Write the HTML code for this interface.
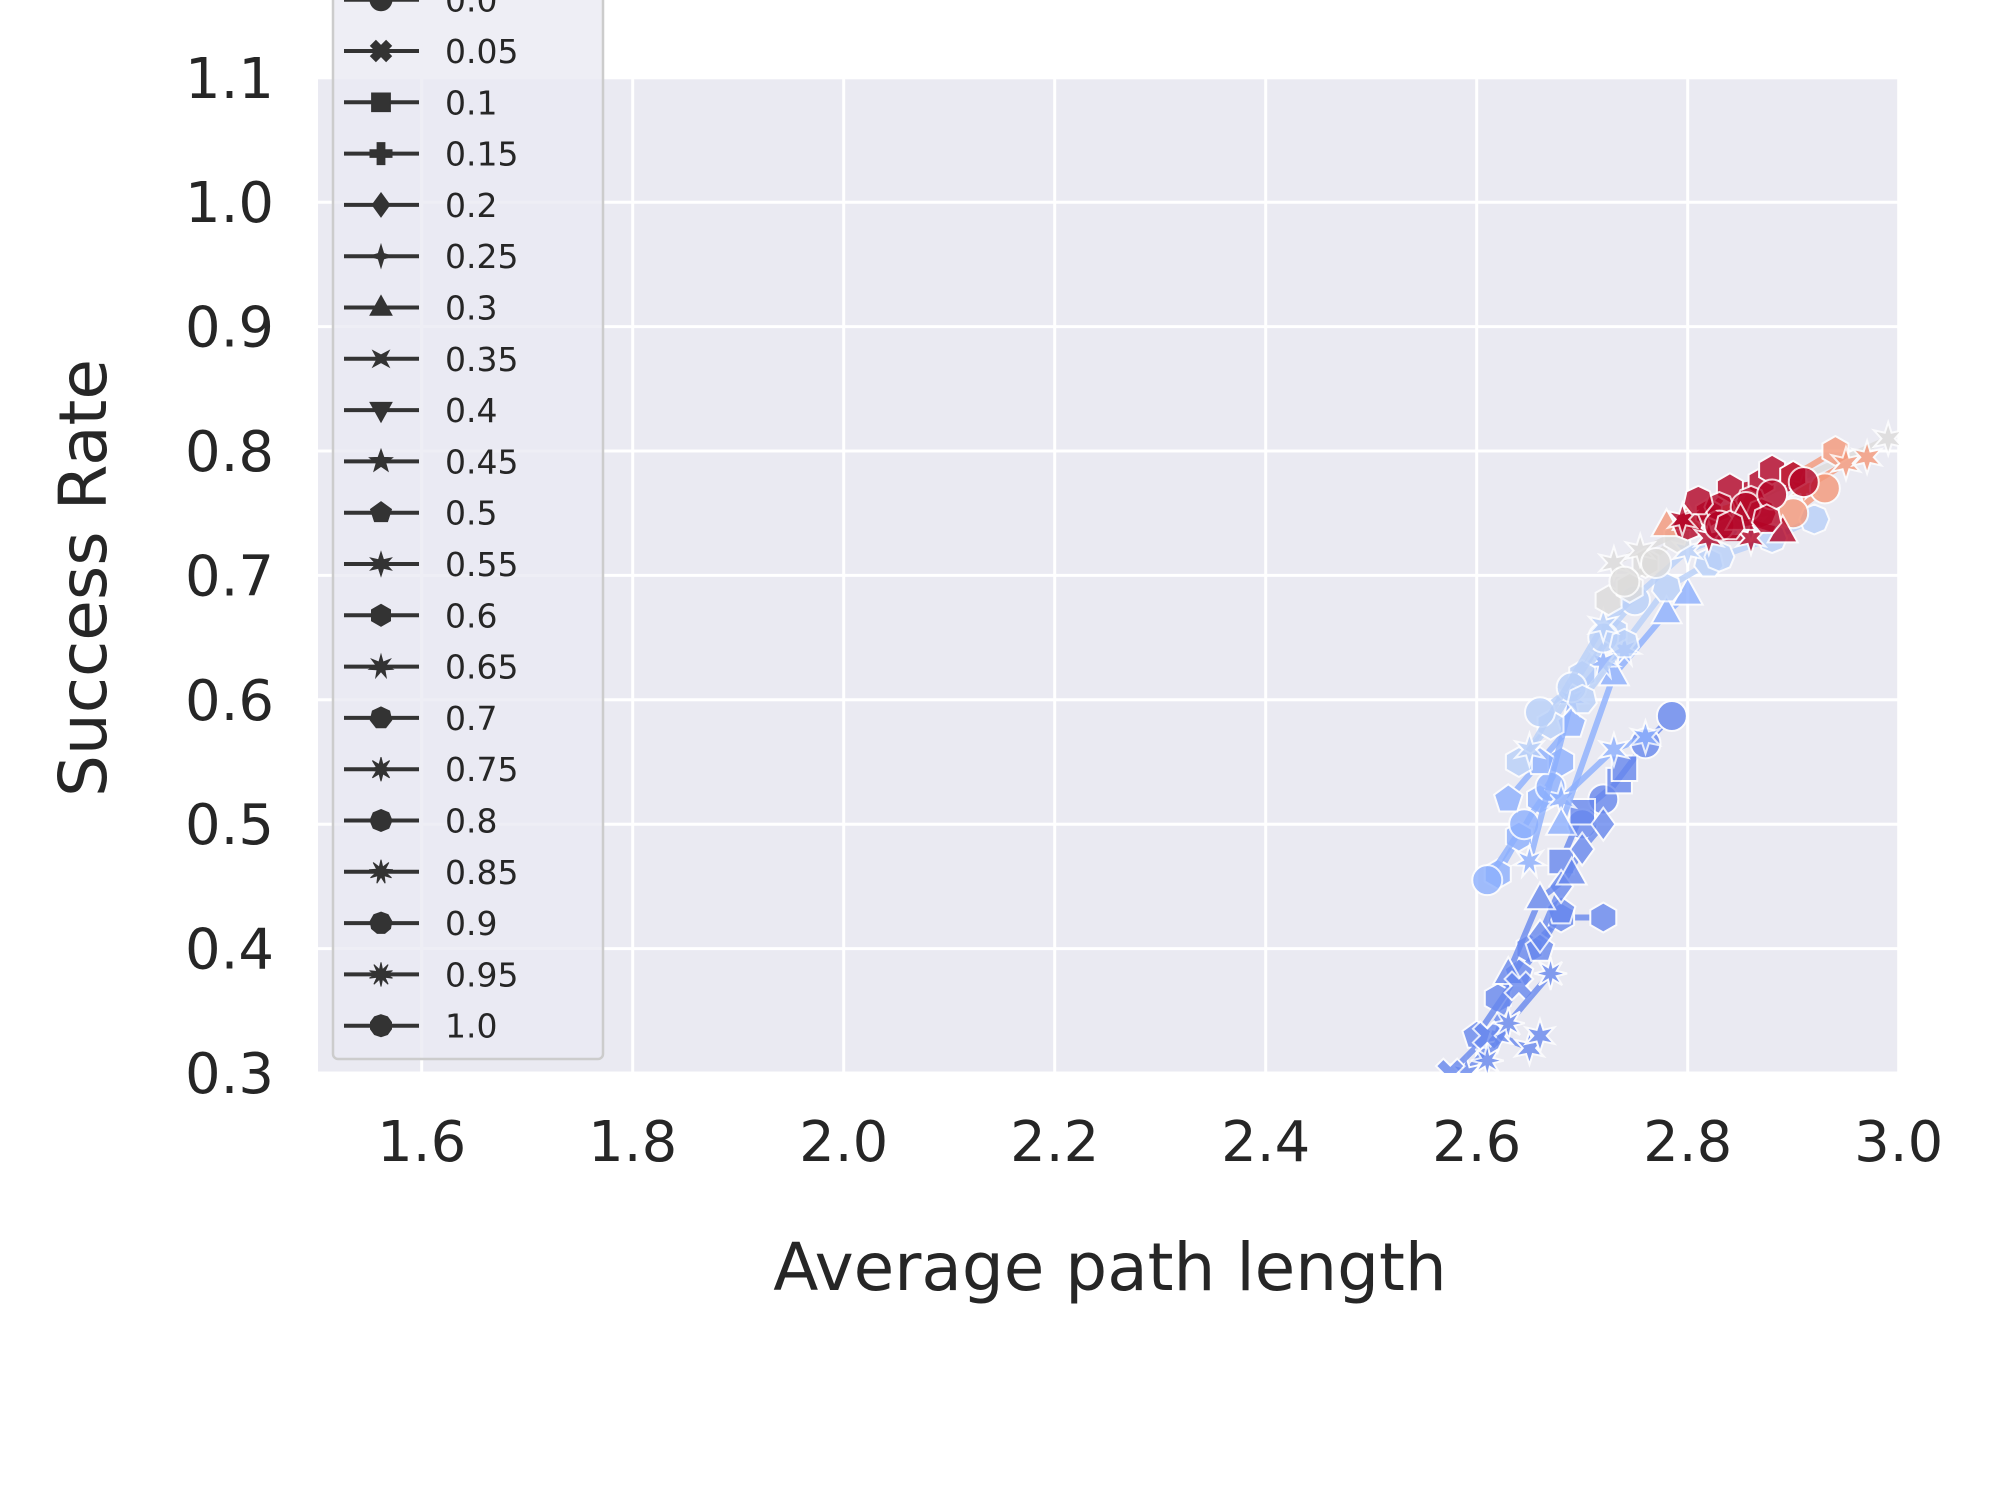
<!DOCTYPE html>
<html><head><meta charset="utf-8"><style>
body{margin:0;background:#fff;}
svg{display:block;font-family:"DejaVu Sans","Liberation Sans",sans-serif;}
</style></head><body>
<svg id="chart" width="2000" height="1500" viewBox="0 0 2000 1500" xmlns="http://www.w3.org/2000/svg">
<rect x="0" y="0" width="2000" height="1500" fill="#fff"/>
<rect x="318" y="78" width="1581" height="995" fill="#eaeaf2"/>
<g id="grid"></g><g id="marks"></g><g id="ticks"></g><g id="legend"></g>
<text x="1110" y="1290" font-size="66" fill="#262626" text-anchor="middle">Average path length</text>
<text transform="translate(106,578) rotate(-90)" font-size="66" fill="#262626" text-anchor="middle">Success Rate</text>
</svg>
<script>
const xTicks=[1.6,1.8,2.0,2.2,2.4,2.6,2.8,3.0];
const yTicks=[0.3,0.4,0.5,0.6,0.7,0.8,0.9,1.0,1.1];
const legendLabels=["0.0","0.05","0.1","0.15","0.2","0.25","0.3","0.35","0.4","0.45","0.5","0.55","0.6","0.65","0.7","0.75","0.8","0.85","0.9","0.95","1.0"];
const seriesColors=["#6788ee","#6788ee","#6788ee","#6788ee","#6788ee","#6788ee","#6788ee","#6788ee","#6788ee",
"#8db0fe","#8db0fe","#8db0fe","#8db0fe","#8db0fe","#8db0fe",
"#b9d0f9","#b9d0f9","#b9d0f9","#b9d0f9","#b9d0f9",
"#dddcdb","#dddcdb","#dddcdb",
"#f4987a","#f4987a","#f4987a","#f4987a",
"#b40426","#b40426","#b40426","#b40426","#b40426","#b40426"];
const seriesMarkers=[0,2,12,11,10,4,6,1,15, 12,0,11,6,10,13, 12,0,14,11,16, 12,11,0, 12,11,6,0, 12,16,11,0,6,14];
const seriesX=[
[2.70,2.72,2.76,2.785],[2.68,2.70,2.735,2.74],[2.62,2.65,2.68,2.72],[2.59,2.62,2.65,2.66],[2.60,2.64,2.66,2.68],[2.66,2.68,2.70,2.72],[2.63,2.66,2.69],[2.575,2.61,2.64],[2.61,2.63,2.67],
[2.62,2.64,2.66,2.68],[2.61,2.645,2.67],[2.68,2.73,2.76],[2.68,2.73,2.78,2.80],[2.63,2.66,2.69],[2.65,2.69,2.72,2.74],
[2.64,2.67,2.70,2.73],[2.66,2.69,2.72,2.75],[2.70,2.74,2.78,2.82],[2.65,2.72,2.80,2.86],[2.83,2.88,2.92],
[2.725,2.745,2.76,2.79],[2.73,2.755,2.99],[2.74,2.77],
[2.90,2.94],[2.91,2.95,2.97],[2.78,2.80,2.86],[2.90,2.93],
[2.82,2.84,2.87,2.88,2.90],[2.80,2.83,2.86,2.87],[2.795,2.82,2.86],[2.83,2.855,2.88,2.91],[2.85,2.89],[2.81,2.84,2.875]];
const seriesY=[
[0.50,0.52,0.565,0.587],[0.47,0.51,0.535,0.545],[0.36,0.40,0.425,0.425],[0.30,0.33,0.32,0.33],[0.33,0.38,0.40,0.43],[0.41,0.45,0.48,0.50],[0.38,0.44,0.46],[0.30,0.33,0.37],[0.31,0.34,0.38],
[0.46,0.49,0.52,0.55],[0.455,0.50,0.53],[0.52,0.56,0.57],[0.50,0.62,0.67,0.685],[0.52,0.55,0.58],[0.47,0.60,0.63,0.64],
[0.55,0.58,0.62,0.655],[0.59,0.61,0.65,0.68],[0.60,0.645,0.69,0.71],[0.56,0.66,0.72,0.74],[0.715,0.73,0.745],
[0.68,0.69,0.71,0.73],[0.71,0.72,0.81],[0.695,0.71],
[0.78,0.80],[0.77,0.79,0.795],[0.74,0.745,0.76],[0.75,0.77],
[0.75,0.77,0.775,0.785,0.78],[0.74,0.755,0.76,0.75],[0.745,0.73,0.73],[0.74,0.755,0.765,0.775],[0.745,0.735],[0.76,0.74,0.745]];

const NS="http://www.w3.org/2000/svg";
const X0=318,X1=1899,Y0=78,Y1=1073;
function xs(v){return 1265.7+(v-2.4)*1055;}
function ys(v){return 1073-(v-0.3)*1244;}
function mk(tag,attrs,parent){const e=document.createElementNS(NS,tag);for(const k in attrs)e.setAttribute(k,attrs[k]);parent.appendChild(e);return e;}
function poly(cx,cy,pts){return "M"+pts.map(p=>(cx+p[0]).toFixed(1)+","+(cy+p[1]).toFixed(1)).join("L")+"Z";}
function markerPath(t,cx,cy,r){
  const P=[];
  if(t===0){return `M${cx-r},${cy}a${r},${r} 0 1,0 ${2*r},0a${r},${r} 0 1,0 ${-2*r},0Z`;}
  if(t===1||t===3){const a=r*0.35,b=r;let base=[[-a,-b],[a,-b],[a,-a],[b,-a],[b,a],[a,a],[a,b],[-a,b],[-a,a],[-b,a],[-b,-a],[-a,-a]];
    if(t===1){const c=Math.SQRT1_2;base=base.map(p=>[(p[0]-p[1])*c,(p[0]+p[1])*c]);}return poly(cx,cy,base);}
  if(t===2){const s=r*0.85;return poly(cx,cy,[[-s,-s],[s,-s],[s,s],[-s,s]]);}
  if(t===4){return poly(cx,cy,[[0,-r*1.1],[r*0.8,0],[0,r*1.1],[-r*0.8,0]]);}
  if(t===5||t===7){const rot=t===7?Math.PI/4:0;for(let i=0;i<8;i++){const rr=i%2?r*0.35:r*1.05;const a=rot+i*Math.PI/4-Math.PI/2;P.push([rr*Math.cos(a),rr*Math.sin(a)]);}return poly(cx,cy,P);}
  if(t===6){return poly(cx,cy,[[0,-r*1.1],[r,r*0.7],[-r,r*0.7]]);}
  if(t===8){return poly(cx,cy,[[0,r*1.1],[r,-r*0.7],[-r,-r*0.7]]);}
  const j=t-9,n=5+Math.floor(j/2),star=(j%2===0);
  if(star){for(let i=0;i<2*n;i++){const rr=i%2?r*0.45:r*1.1;const a=i*Math.PI/n-Math.PI/2;P.push([rr*Math.cos(a),rr*Math.sin(a)]);}}
  else{for(let i=0;i<n;i++){const a=i*2*Math.PI/n-Math.PI/2;P.push([r*Math.cos(a),r*Math.sin(a)]);}}
  return poly(cx,cy,P);
}
const grid=document.getElementById('grid'),ticks=document.getElementById('ticks'),marks=document.getElementById('marks'),legend=document.getElementById('legend');
xTicks.forEach(v=>{
  const l=mk('line',{x1:xs(v),x2:xs(v),y1:Y0,y2:Y1,stroke:'#fff','stroke-width':3},grid);
  
  
  const t=mk('text',{x:xs(v),y:1161,'font-size':56,fill:'#262626','text-anchor':'middle'},ticks);t.textContent=v.toFixed(1);
  
  
});
yTicks.forEach(v=>{
  const l=mk('line',{x1:X0,x2:X1,y1:ys(v),y2:ys(v),stroke:'#fff','stroke-width':3},grid);
  
  
  const t=mk('text',{x:274,y:ys(v)+20,'font-size':56,fill:'#262626','text-anchor':'end'},ticks);t.textContent=v.toFixed(1);
  
  
});
const clip=mk('clipPath',{id:'pc'},document.getElementById('chart'));mk('rect',{x:X0,y:Y0,width:X1-X0,height:Y1-Y0},clip);
marks.setAttribute('clip-path','url(#pc)');
seriesX.forEach((xsArr,i)=>{
  const g=mk('g',{opacity:0.8},marks);
  
  
  const d=xsArr.map((v,k)=>(k?'L':'M')+xs(v).toFixed(1)+','+ys(seriesY[i][k]).toFixed(1)).join('');
  const ln=mk('path',{d:d,fill:'none',stroke:seriesColors[i],'stroke-width':6},g);
  
  
  xsArr.forEach((v,k)=>{
    const p=mk('path',{d:markerPath(seriesMarkers[i],xs(v),ys(seriesY[i][k]),15),fill:seriesColors[i],stroke:'#fff','stroke-width':2},g);
    
    
  });
});
const lb=mk('rect',{x:333,y:-20,width:270,height:1079,rx:5,fill:'#eaeaf2','fill-opacity':0.8,stroke:'#cccccc','stroke-width':2.5},legend);


legendLabels.forEach((s,i)=>{
  const y=-0.3+i*51.3;
  const g=mk('g',{},legend);
  
  
  mk('line',{x1:344,x2:419,y1:y,y2:y,stroke:'#333','stroke-width':4},g);
  mk('path',{d:markerPath(i,381,y,11),fill:'#333',stroke:'#333','stroke-width':1},g);
  const t=mk('text',{x:445,y:y+12,'font-size':33,fill:'#262626'},g);t.textContent=s;
});
</script>
</body></html>
